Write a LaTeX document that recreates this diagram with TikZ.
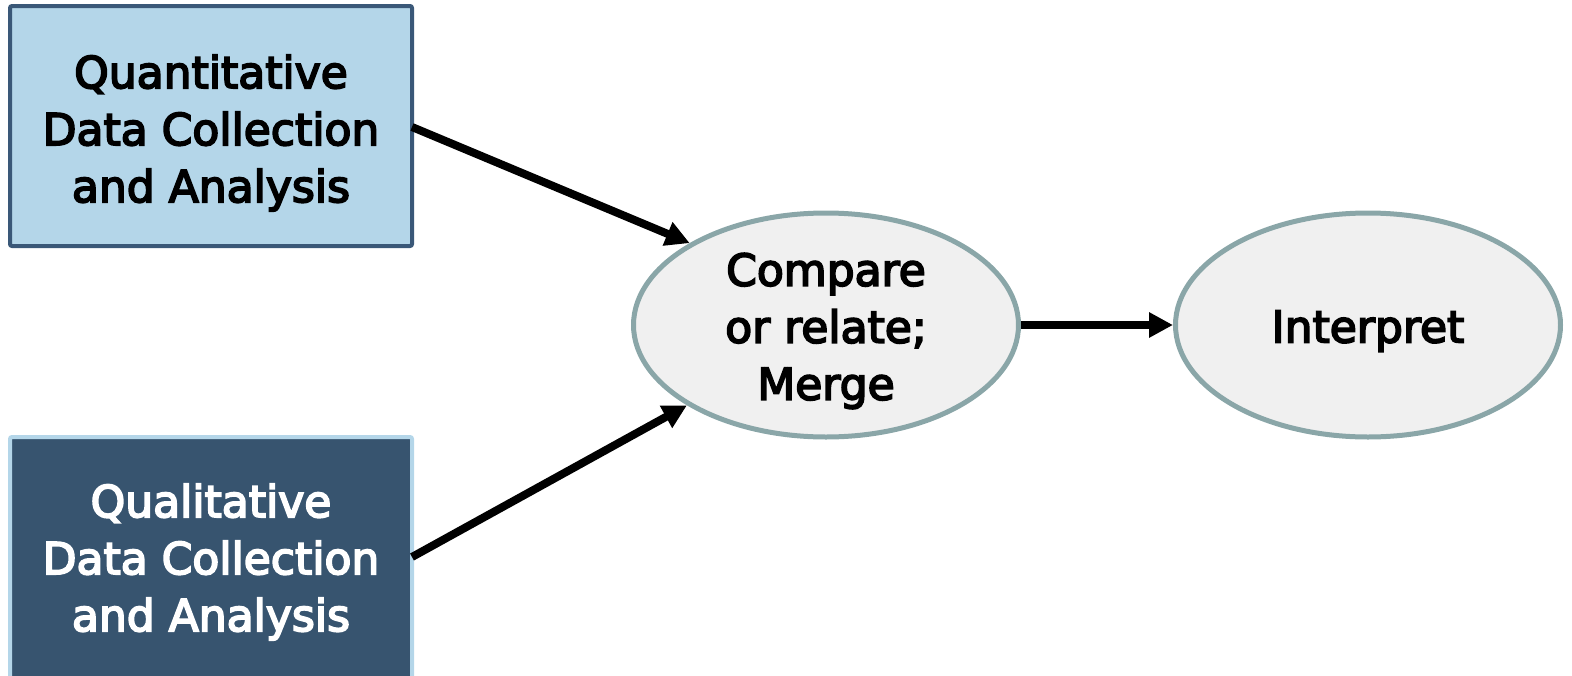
\documentclass[tikz,border=0pt]{standalone}
\usepackage{fontspec}
\newfontfamily\lblfont{DejaVu Sans}[FakeBold=4]
\usetikzlibrary{shapes.geometric,arrows.meta}
\definecolor{quantfill}{HTML}{B4D6E9}
\definecolor{quantline}{HTML}{3A5878}
\definecolor{qualfill}{HTML}{37546F}
\definecolor{ovalfill}{HTML}{F0F0F0}
\definecolor{ovalline}{HTML}{8AA6A8}
\tikzset{
  x=1pt, y=-1pt,
  lbl/.style={align=center, font=\lblfont\fontsize{44}{57}\selectfont},
  quantbox/.style={draw=quantline, fill=quantfill, line width=4pt, rounded corners=2pt},
  qualbox/.style={draw=quantfill, fill=qualfill, line width=4pt, rounded corners=2pt},
  oval/.style={ellipse, draw=ovalline, fill=ovalfill, line width=5pt,
    minimum width=385pt, minimum height=224pt, inner sep=0pt},
  link/.style={line width=8pt, -{Triangle[length=24pt,width=24pt]}}
}
\begin{document}
\begin{tikzpicture}
\useasboundingbox (0,0) rectangle (1572,675);
% input boxes
\draw[quantbox] (10,6) rectangle (412,246);
\node[lbl, text=black] (quant) at (211,133) {Quantitative\\Data Collection\\and Analysis};
\draw[qualbox] (10,437) rectangle (412,690);
\node[lbl, text=white] (qual) at (211,562) {Qualitative\\Data Collection\\and Analysis};
% merge and interpret
\node[oval] (merge) at (826,325) {};
\node[lbl] (mergetext) at (826,331) {Compare\\or relate;\\Merge};
\node[oval] (interp) at (1368,325) {};
\node[lbl] (interptext) at (1368,331) {Interpret};
% connectors
\coordinate (qa) at (412,127);
\coordinate (qb) at (412,557);
\draw[link] (qa) -- (merge.149.5);
\draw[link] (qb) -- (merge.210.5);
\draw[link] (merge.east) -- (interp.west);
\end{tikzpicture}
\end{document}
